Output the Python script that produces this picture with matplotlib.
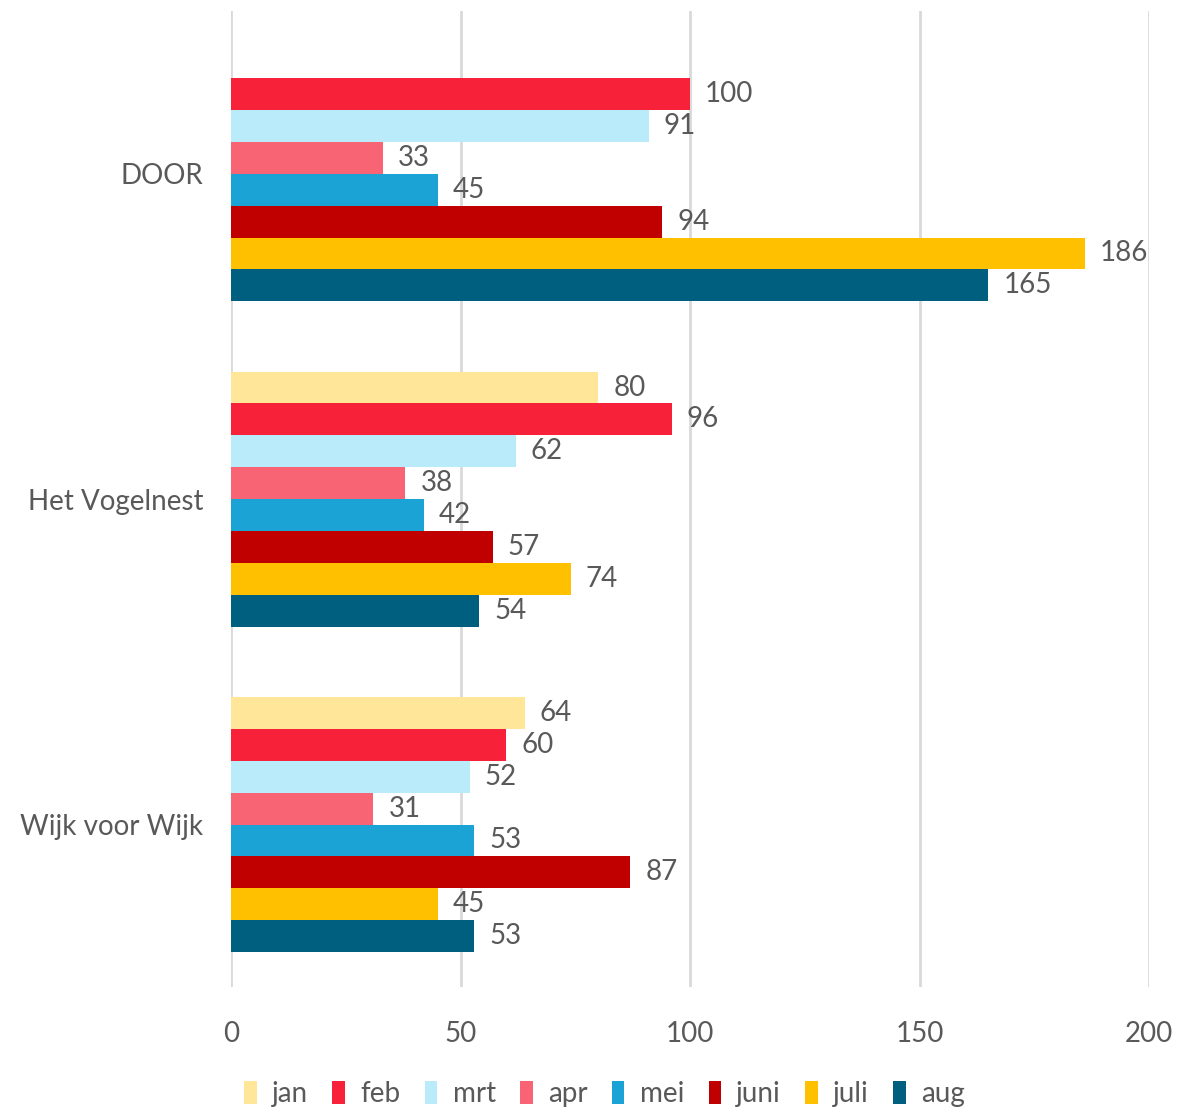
import numpy as np
import matplotlib
matplotlib.use("Agg")
import matplotlib.pyplot as plt

categories = ["DOOR", "Het Vogelnest", "Wijk voor Wijk"]
months = ["jan", "feb", "mrt", "apr", "mei", "juni", "juli", "aug"]
values = {
    "jan": [np.nan, 80, 64],
    "feb": [100, 96, 60],
    "mrt": [91, 62, 52],
    "apr": [33, 38, 31],
    "mei": [45, 42, 53],
    "juni": [94, 57, 87],
    "juli": [186, 74, 45],
    "aug": [165, 54, 53],
}
colors = ["#FFE699", "#F7213A", "#B9EBFA", "#F86474", "#1BA3D5", "#C00000", "#FFC000", "#005F7F"]

plt.rcParams['font.family'] = ['Lato', 'DejaVu Sans']
TXT = "#595959"

fig = plt.figure(figsize=(11.77, 11.08), dpi=100)
ax = fig.add_axes([0.1963, 0.109, 0.7799, 0.881])

h = 0.098
y0 = np.arange(len(categories))
for i, m in enumerate(months):
    ypos = y0 - 4 * h + (i + 0.5) * h
    vals = np.array(values[m], dtype=float)
    ax.barh(ypos, vals, height=h, color=colors[i], label=m, zorder=3)
    for y, v in zip(ypos, vals):
        if not np.isnan(v):
            ax.text(v + 3.3, y, "%d" % v, va="center", ha="left", fontsize=20, color=TXT)

ax.set_ylim(2.5, -0.5)
ax.set_xlim(0, 200)
ax.set_xticks([0, 50, 100, 150, 200])
ax.set_yticks(y0)
ax.set_yticklabels(categories)
ax.grid(axis="x", color="#D9D9D9", linewidth=2, zorder=0)
for s in ax.spines.values():
    s.set_visible(False)
ax.tick_params(axis="both", length=0, labelsize=20, labelcolor=TXT)
ax.tick_params(axis="x", pad=24)
ax.tick_params(axis="y", pad=20)

ax.legend(loc="lower center", bbox_to_anchor=(0.5 - 0.1963 / 2 + 0.005, -0.134), ncol=8, frameon=False,
          fontsize=20, handlelength=0.45, handleheight=0.9, handletextpad=0.55, columnspacing=0.88,
          labelcolor=TXT, borderaxespad=0)

fig.savefig("out.png", dpi=100)
